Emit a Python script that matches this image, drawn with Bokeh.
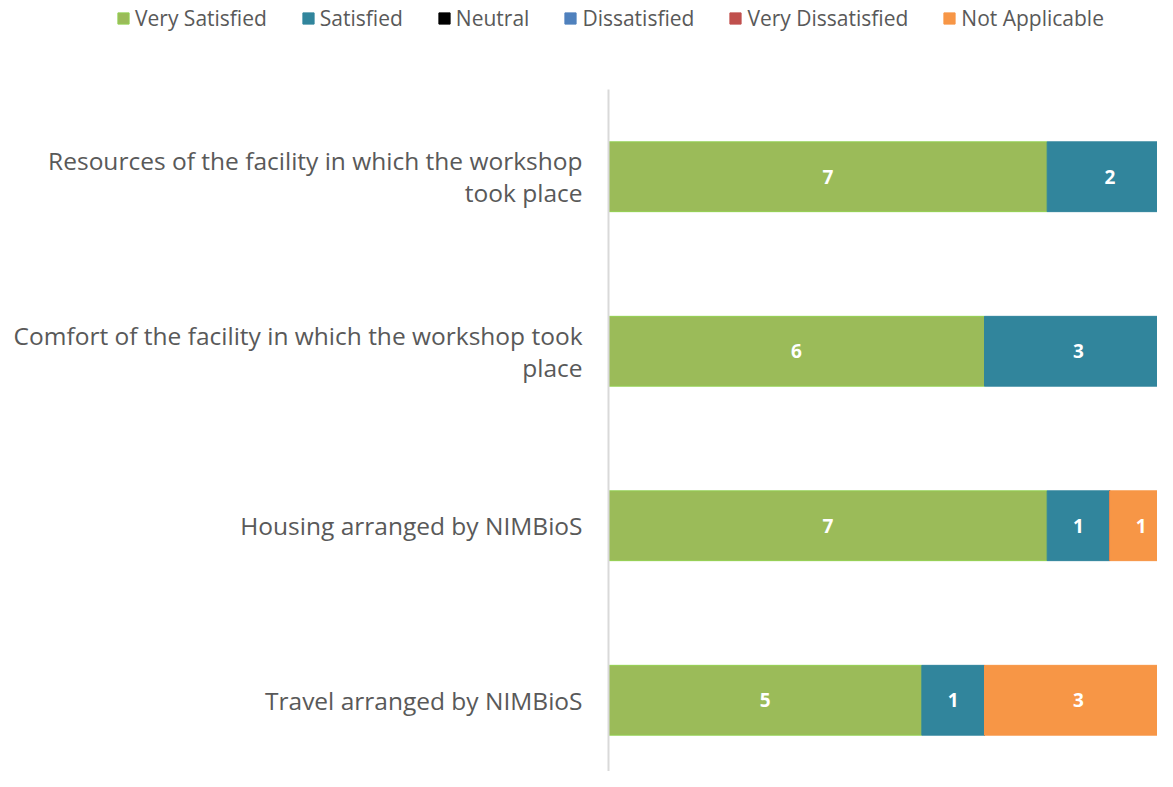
from bokeh.plotting import figure
from bokeh.models import (Range1d, Legend, LegendItem, ColumnDataSource, LabelSet)
from bokeh.core.properties import value
from bokeh.embed import file_html
from bokeh.resources import INLINE

categories = [
    "Resources of the facility in which the workshop\ntook place",
    "Comfort of the facility in which the workshop took\nplace",
    "Housing arranged by NIMBioS",
    "Travel arranged by NIMBioS",
]
series_names = ["Very Satisfied", "Satisfied", "Neutral", "Dissatisfied",
                "Very Dissatisfied", "Not Applicable"]
very_satisfied = [7, 6, 7, 5]
satisfied = [2, 3, 1, 1]
neutral = [0, 0, 0, 0]
dissatisfied = [0, 0, 0, 0]
very_dissatisfied = [0, 0, 0, 0]
not_applicable = [0, 0, 1, 3]
colors = ["#9BBB59", "#31859C", "#000000", "#4F81BD", "#C0504D", "#F79646"]
edge_colors = ["#92D050", "#31859C", "#000000", "#4F81BD", "#C0504D", "#F79646"]

series = [very_satisfied, satisfied, neutral, dissatisfied, very_dissatisfied, not_applicable]
keys = ["s%d" % i for i in range(len(series))]
n = len(categories)
ypos = [n - i - 0.5 for i in range(n)]          # top category first
data = {"cat": categories, "y": ypos}
for k, s in zip(keys, series):
    data[k] = s
source = ColumnDataSource(data)

totals = [sum(v) for v in zip(*series)]
xmax = max(totals)

# layout (pixels): canvas size, left edge of the bar area, width the full bars
# would take, top band kept for the legend, and height of one category band
W, H, LEFT, BAR_W, TOP, BAND = 1157, 771, 608, 564, 89, 174.5
ppu = BAR_W / xmax
x_start, x_end = -LEFT / ppu, (W - LEFT) / ppu
y_end = n + TOP / BAND
y_start = y_end - H / BAND

p = figure(width=W, height=H, output_backend="svg", toolbar_location=None,
           x_range=Range1d(x_start, x_end), y_range=Range1d(y_start, y_end),
           min_border_left=0, min_border_right=0, min_border_top=0, min_border_bottom=0)

renderers = p.hbar_stack(keys, y="y", height=0.4, source=source, color=colors,
                         line_color=edge_colors, line_width=1)

# category axis: line + labels
p.segment(x0=[0], y0=[y_start], x1=[0], y1=[n], line_color="#D9D9D9", line_width=2)
p.text(x=[0] * n, y=ypos, text=categories, x_offset=-26, text_align="right",
       text_baseline="middle", text_font=value("Open Sans"), text_font_size="24.5px",
       text_color="#595959", text_line_height=0.98)

# value labels
lx, ly, lt = [], [], []
for ci in range(n):
    cum = 0
    for s in series:
        v = s[ci]
        if v > 0:
            lx.append(cum + v / 2)
            ly.append(ypos[ci])
            lt.append(str(v))
        cum += v
lab_src = ColumnDataSource(dict(x=lx, y=ly, t=lt))
labels = LabelSet(x="x", y="y", text="t", source=lab_src, text_align="center",
                  text_baseline="middle", text_color="white", text_font=value("Open Sans"),
                  text_font_style="bold", text_font_size="19px")
p.add_layout(labels)

items = [LegendItem(label=nm, renderers=[r]) for nm, r in zip(series_names, renderers)]
legend = Legend(items=items, orientation="horizontal", location=(116, H - 32),
                border_line_alpha=0, background_fill_alpha=0,
                label_text_font="Open Sans", label_text_font_size="21px",
                label_text_color="#595959", glyph_width=14, glyph_height=14,
                label_standoff=5, spacing=34, padding=0, margin=0)
p.add_layout(legend, "center")

p.axis.visible = False
p.grid.visible = False
p.outline_line_color = None

open("out.html", "w").write(file_html(p, INLINE))
